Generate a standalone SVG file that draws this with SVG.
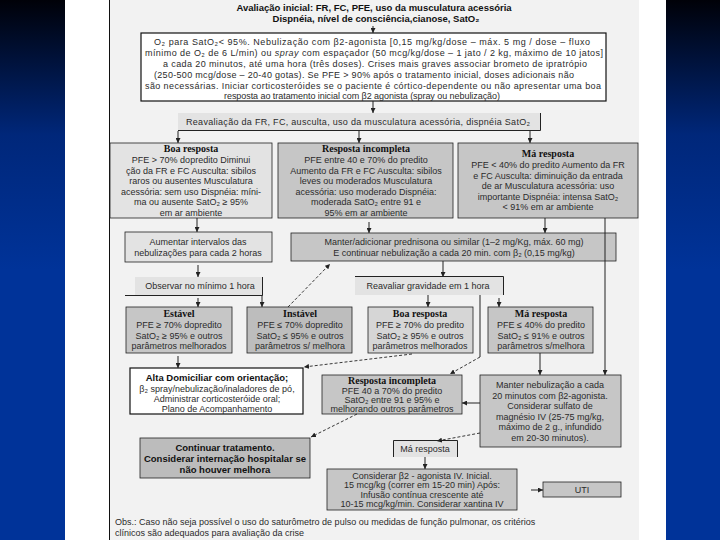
<svg xmlns="http://www.w3.org/2000/svg" width="720" height="540" viewBox="0 0 720 540">
<defs>
<linearGradient id="bg" x1="0" y1="0" x2="0" y2="540" gradientUnits="userSpaceOnUse">
<stop offset="0" stop-color="#000108"/>
<stop offset="0.25" stop-color="#00277a"/>
<stop offset="0.5" stop-color="#003399"/>
<stop offset="1" stop-color="#003399"/>
</linearGradient>
<marker id="ah" viewBox="0 0 6 6" refX="6" refY="3" markerWidth="5" markerHeight="5" orient="auto" markerUnits="userSpaceOnUse">
<path d="M0,0 L6,3 L0,6 z" fill="#222"/>
</marker>
<style>
.wb{fill:#fff;stroke:#111;stroke-width:1.2}
.lb{fill:#e3e3e3;stroke:#222;stroke-width:0.8}
.gb{fill:#c6c6c6;stroke:#222;stroke-width:0.8}
.t{font-family:"Liberation Sans",Arial,sans-serif;font-size:9px;fill:#2b2b2b;text-anchor:middle}
.h{font-family:"Liberation Serif","Times New Roman",serif;font-weight:bold;font-size:10px;fill:#111;text-anchor:middle}
.hb{font-family:"Liberation Sans",Arial,sans-serif;font-weight:bold;font-size:9.5px;fill:#111;text-anchor:middle}
.c{stroke:#222;stroke-width:1;fill:none}
.d{stroke:#222;stroke-width:0.9;fill:none;stroke-dasharray:3 2}
</style>
</defs>
<rect x="0" y="0" width="720" height="540" fill="#fff"/>
<rect x="0" y="0" width="65" height="540" fill="url(#bg)"/>
<rect x="666" y="0" width="54" height="540" fill="url(#bg)"/>
<rect x="109" y="0" width="530" height="540" fill="#f2f2f2"/>
<line x1="109.5" y1="0" x2="109.5" y2="540" stroke="#111" stroke-width="1"/>

<g id="title">
<text class="hb" x="374" y="11">Avaliação inicial: FR, FC, PFE, uso da musculatura acessória</text>
<text class="hb" x="376" y="22">Dispnéia, nível de consciência,cianose, SatO₂</text>
</g>

<g id="n-initial">
<rect class="wb" x="141" y="33" width="465" height="68"/>
<text class="t" x="372" y="45" textLength="436">O₂ para SatO₂&lt; 95%. Nebulização com β2-agonista [0,15 mg/kg/dose – máx. 5 mg / dose – fluxo</text>
<text class="t" x="374" y="56" textLength="458">mínimo de O₂ de 6 L/min) ou <tspan font-style="italic">spray</tspan> com espaçador (50 mcg/kg/dose – 1 jato / 2 kg, máximo de 10 jatos]</text>
<text class="t" x="375" y="67" textLength="424">a cada 20 minutos, até uma hora (três doses). Crises mais graves associar brometo de ipratrópio</text>
<text class="t" x="364" y="78" textLength="420">(250-500 mcg/dose – 20-40 gotas). Se PFE &gt; 90% após o tratamento inicial, doses adicionais não</text>
<text class="t" x="373" y="88.5" textLength="456">são necessárias. Iniciar corticosteróides se o paciente é córtico-dependente ou não apresentar uma boa</text>
<text class="t" x="362" y="98.5" textLength="276">resposta ao tratamento inicial com β2 agonista (spray ou nebulização)</text>
</g>

<g id="n-reaval">
<rect x="178" y="113" width="362" height="17" fill="#e3e3e3"/>
<path class="c" d="M178,130.5 H540.5 V113"/>
<text class="t" x="358" y="125" textLength="344">Reavaliação da FR, FC, ausculta, uso da musculatura acessória, dispnéia SatO₂</text>
</g>

<g id="n-boa">
<rect class="lb" x="110" y="143" width="162" height="75"/>
<text class="h" x="191" y="152">Boa resposta</text>
<text class="t" x="191" y="163">PFE &gt; 70% dopredito Diminui</text>
<text class="t" x="191" y="173.5">ção da FR e FC Ausculta: sibilos</text>
<text class="t" x="191" y="184">raros ou ausentes Musculatura</text>
<text class="t" x="191" y="194.5">acessória: sem uso Dispnéia: míni-</text>
<text class="t" x="191" y="205">ma ou ausente SatO₂ ≥ 95%</text>
<text class="t" x="191" y="215.5">em ar ambiente</text>
</g>

<g id="n-incompleta">
<rect class="gb" x="278" y="143" width="175" height="75"/>
<text class="h" x="366" y="152">Resposta incompleta</text>
<text class="t" x="366" y="163">PFE entre 40 e 70% do predito</text>
<text class="t" x="366" y="173.5">Aumento  da FR e FC Ausculta: sibilos</text>
<text class="t" x="366" y="184">leves ou moderados Musculatura</text>
<text class="t" x="366" y="194.5">acessória: uso moderado Dispnéia:</text>
<text class="t" x="366" y="205">moderada SatO₂ entre 91 e</text>
<text class="t" x="366" y="215.5">95% em ar ambiente</text>
</g>

<g id="n-ma">
<rect class="gb" x="458" y="143" width="180" height="75"/>
<text class="h" x="548" y="157">Má resposta</text>
<text class="t" x="548" y="168">PFE &lt; 40% do predito Aumento da FR</text>
<text class="t" x="548" y="178.5">e FC Ausculta: diminuição da entrada</text>
<text class="t" x="548" y="189">de ar Musculatura acessória: uso</text>
<text class="t" x="548" y="199.5">importante Dispnéia: intensa SatO₂</text>
<text class="t" x="548" y="210">&lt; 91% em ar ambiente</text>
</g>

<g id="n-aumentar">
<rect class="lb" x="125" y="232" width="147" height="30"/>
<text class="t" x="198" y="245">Aumentar intervalos das</text>
<text class="t" x="198" y="256">nebulizações para cada 2 horas</text>
</g>

<g id="n-manter">
<rect class="gb" x="291" y="233" width="325" height="28"/>
<text class="t" x="454" y="245">Manter/adicionar prednisona ou similar (1–2 mg/Kg, máx. 60 mg)</text>
<text class="t" x="454" y="256">E continuar nebulização a cada 20 min. com β₂ (0,15 mg/kg)</text>
</g>

<g id="n-observar">
<rect x="135" y="277" width="127" height="18" fill="#e3e3e3"/>
<path class="c" d="M125,295.5 H262.5 V277"/>
<text class="t" x="200" y="289">Observar no mínimo 1 hora</text>
</g>

<g id="n-reavaliar">
<rect x="355" y="277" width="148" height="18" fill="#e3e3e3"/>
<path class="c" d="M355,276.5 H503.5 V295"/>
<text class="t" x="428" y="289">Reavaliar gravidade em 1 hora</text>
</g>

<g id="n-estavel">
<rect class="gb" x="126" y="307" width="106" height="46"/>
<text class="h" x="179" y="317">Estável</text>
<text class="t" x="179" y="328">PFE ≥ 70% dopredito</text>
<text class="t" x="179" y="338.5">SatO₂ ≥ 95% e outros</text>
<text class="t" x="179" y="349">parâmetros melhorados</text>
</g>

<g id="n-instavel">
<rect class="gb" x="247" y="307" width="105" height="46" style="fill:#bdbdbd"/>
<text class="h" x="300" y="317">Instável</text>
<text class="t" x="300" y="328">PFE ≤ 70% dopredito</text>
<text class="t" x="300" y="338.5">SatO₂ ≤ 95% e outros</text>
<text class="t" x="300" y="349">parâmetros s/ melhora</text>
</g>

<g id="n-boa2">
<rect class="lb" x="368" y="307" width="105" height="46" style="fill:#d6d6d6"/>
<text class="h" x="420" y="317">Boa resposta</text>
<text class="t" x="420" y="328">PFE ≥ 70% do predito</text>
<text class="t" x="420" y="338.5">SatO₂ ≥ 95% e outros</text>
<text class="t" x="420" y="349">parâmetros melhorados</text>
</g>

<g id="n-ma2">
<rect class="gb" x="488" y="307" width="105" height="46"/>
<text class="h" x="541" y="317">Má resposta</text>
<text class="t" x="541" y="328">PFE ≤ 40% do predito</text>
<text class="t" x="541" y="338.5">SatO₂ ≤ 91% e outros</text>
<text class="t" x="541" y="349">parâmetros s/melhora</text>
</g>

<g id="n-alta">
<rect class="wb" x="130" y="368" width="173" height="46"/>
<text class="hb" x="217" y="381">Alta Domiciliar com orientação;</text>
<text class="t" x="217" y="391.5">β₂ spray/nebulização/inaladores de pó,</text>
<text class="t" x="217" y="401.5">Administrar corticosteróide oral;</text>
<text class="t" x="217" y="411.5">Plano de Acompanhamento</text>
</g>

<g id="n-incompleta2">
<rect class="gb" x="322" y="375" width="140" height="39"/>
<text class="h" x="392" y="384">Resposta incompleta</text>
<text class="t" x="392" y="393.5">PFE 40 a 70% do predito</text>
<text class="t" x="392" y="403">SatO₂ entre 91 e 95% e</text>
<text class="t" x="392" y="412">melhorando outros parâmetros</text>
</g>

<g id="n-manterneb">
<rect class="gb" x="480" y="375" width="141" height="72"/>
<text class="t" x="550" y="388">Manter nebulização a cada</text>
<text class="t" x="550" y="398.5">20 minutos com β2-agonista.</text>
<text class="t" x="550" y="409">Considerar sulfato de</text>
<text class="t" x="550" y="419.5">magnésio IV (25-75 mg/kg,</text>
<text class="t" x="550" y="430">máximo de 2 g., infundido</text>
<text class="t" x="550" y="440.5">em 20-30 minutos).</text>
</g>

<g id="n-continuar">
<rect class="gb" x="140" y="438" width="170" height="40" style="fill:#bcbcbc"/>
<text class="hb" x="225" y="451">Continuar tratamento.</text>
<text class="hb" x="225" y="462">Considerar internação hospitalar se</text>
<text class="hb" x="225" y="473">não houver melhora</text>
</g>

<g id="n-ma3">
<rect x="393" y="440" width="65" height="17" fill="#e3e3e3"/>
<path class="c" d="M393.5,457 V440.5 H457.5 V457"/>
<text class="t" x="425" y="452">Má resposta</text>
</g>

<g id="n-considerar">
<rect class="gb" x="327" y="469" width="190" height="41"/>
<text class="t" x="422" y="478.5">Considerar β2 - agonista IV. Inicial.</text>
<text class="t" x="422" y="488">15 mcg/kg (correr em 15-20 min) Após:</text>
<text class="t" x="422" y="497.5">Infusão contínua crescente até</text>
<text class="t" x="422" y="507">10-15 mcg/kg/min. Considerar xantina IV</text>
</g>

<g id="n-uti">
<rect class="gb" x="543" y="482" width="78" height="15"/>
<text class="t" x="582" y="493">UTI</text>
</g>

<g id="obs">
<text class="t" x="115" y="525" style="text-anchor:start">Obs.: Caso não seja possível o uso do saturômetro de pulso ou medidas de função pulmonar, os critérios</text>
<text class="t" x="115" y="535.5" style="text-anchor:start">clínicos são adequados para avaliação da crise</text>
</g>

<g id="connectors">
<line class="c" x1="373" y1="26" x2="373" y2="33" marker-end="url(#ah)"/>
<line class="c" x1="373" y1="101" x2="373" y2="113" marker-end="url(#ah)"/>
<line class="c" x1="178" y1="131" x2="178" y2="143" marker-end="url(#ah)"/>
<line class="c" x1="359" y1="131" x2="359" y2="143" marker-end="url(#ah)"/>
<line class="c" x1="530" y1="131" x2="530" y2="143" marker-end="url(#ah)"/>
<line class="c" x1="197" y1="218" x2="197" y2="232" marker-end="url(#ah)"/>
<line class="c" x1="369" y1="222" x2="369" y2="233" marker-end="url(#ah)"/>
<line class="c" x1="545" y1="218" x2="545" y2="233" marker-end="url(#ah)"/>
<line class="c" x1="605" y1="218" x2="605" y2="375" marker-end="url(#ah)"/>
<line class="c" x1="198" y1="265" x2="198" y2="277" marker-end="url(#ah)"/>
<line class="c" x1="198" y1="298" x2="198" y2="307" marker-end="url(#ah)"/>
<line class="c" x1="262" y1="295" x2="262" y2="307" marker-end="url(#ah)"/>
<line class="d" x1="288" y1="307" x2="330" y2="264" marker-end="url(#ah)"/>
<line class="c" x1="443" y1="261" x2="443" y2="277" marker-end="url(#ah)"/>
<line class="c" x1="428" y1="295" x2="428" y2="307" marker-end="url(#ah)"/>
<line class="c" x1="499" y1="298" x2="499" y2="307" marker-end="url(#ah)"/>
<path class="c" d="M480,295 V357"/>
<line class="d" x1="480" y1="357" x2="450" y2="374" marker-end="url(#ah)"/>
<line class="c" x1="178" y1="356" x2="178" y2="368" marker-end="url(#ah)"/>
<line class="d" x1="412" y1="354" x2="304" y2="367" marker-end="url(#ah)"/>
<line class="c" x1="540" y1="353" x2="540" y2="375" marker-end="url(#ah)"/>
<line class="c" x1="480" y1="403" x2="462" y2="403" marker-end="url(#ah)"/>
<line class="d" x1="480" y1="433" x2="437" y2="441" marker-end="url(#ah)"/>
<line class="d" x1="357" y1="414" x2="311" y2="437" marker-end="url(#ah)"/>
<line class="c" x1="425" y1="457" x2="425" y2="469" marker-end="url(#ah)"/>
<line class="c" x1="531" y1="490" x2="543" y2="490" marker-end="url(#ah)"/>
</g>
</svg>
